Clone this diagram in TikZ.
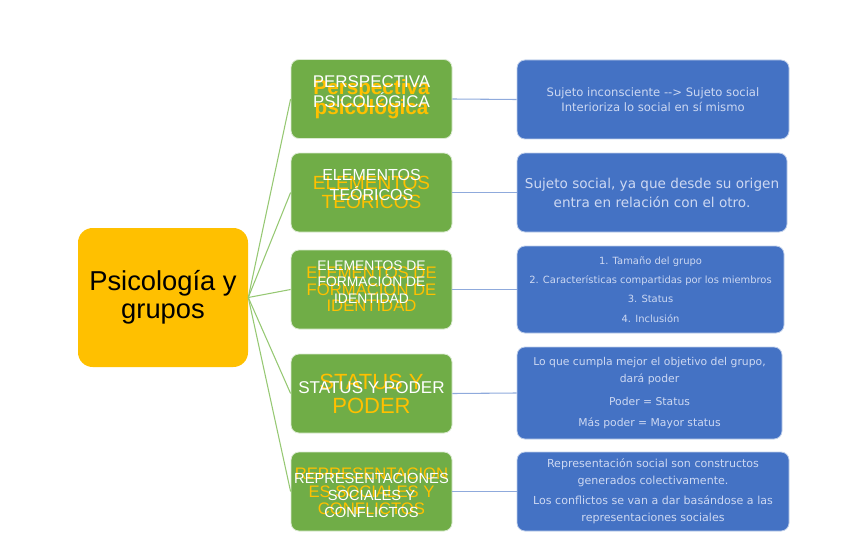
\documentclass[tikz,border=0pt]{standalone}
\usepackage{fontspec}
\setmainfont{Liberation Sans}
\newfontfamily\handfont{DejaVu Sans}
\definecolor{mapgold}{RGB}{255,192,0}
\definecolor{mapgreen}{RGB}{112,173,71}
\definecolor{mapblue}{RGB}{68,114,196}
\definecolor{handtext}{RGB}{205,216,242}
\definecolor{ramagreen}{RGB}{150,200,115}
\definecolor{enlaceblue}{RGB}{143,170,220}

\begin{document}
\begin{tikzpicture}[x=0.75pt,y=-0.75pt,
		raiz/.style={fill=mapgold,rounded corners=11pt,minimum width=127.5pt,minimum height=104.25pt,inner sep=0pt,align=center,font=\fontsize{20.5}{21}\selectfont},
		tema/.style={fill=mapgreen,draw=white!75!mapgreen,line width=0.6pt,rounded corners=6pt,minimum width=120.75pt,minimum height=59.25pt,inner sep=0pt,align=center,text=mapgold},
		rotulo/.style={align=center,text=white,inner sep=0pt},
		detalle/.style={fill=mapblue,draw=white!65!mapblue,line width=0.6pt,rounded corners=6pt,inner sep=0pt,align=center,text=handtext},
		rama/.style={draw=ramagreen,line width=0.8pt},
		enlace/.style={draw=enlaceblue,line width=0.8pt}]
			\useasboundingbox (0,0) rectangle (848,549);
			\node[raiz] (grupos) at (163,297.5) {Psicología y\\grupos};
			\node[tema,font=\bfseries\fontsize{15.5}{15}\selectfont] (persp) at (371.5,99) {Perspectiva\\psicológica};
			\node[tema,font=\fontsize{14.3}{14.25}\selectfont] (teoria) at (371.5,192.5) {ELEMENTOS\\TEÓRICOS};
			\node[tema,font=\fontsize{12.5}{12.4}\selectfont] (identidad) at (371.5,289.5) {ELEMENTOS DE\\FORMACIÓN DE\\IDENTIDAD};
			\node[tema,font=\fontsize{16.5}{18}\selectfont] (poder) at (371.5,393.5) {STATUS Y\\PODER};
			\node[tema,font=\fontsize{12.5}{13.1}\selectfont] (conflictos) at (371.5,491.5) {REPRESENTACION\\ES SOCIALES Y\\CONFLICTOS};
			\node[rotulo,font=\fontsize{12.7}{15}\selectfont] (persp-w) at (371.5,92) {PERSPECTIVA\\PSICOLÓGICA};
			\node[rotulo,font=\fontsize{12}{15}\selectfont] (teoria-w) at (371.5,184.5) {ELEMENTOS\\TEÓRICOS};
			\node[rotulo,font=\fontsize{10.4}{12.6}\selectfont] (identidad-w) at (371.5,282) {ELEMENTOS DE\\FORMACIÓN DE\\IDENTIDAD};
			\node[rotulo,font=\fontsize{12.8}{15}\selectfont] (poder-w) at (371.5,387.5) {STATUS Y PODER};
			\node[rotulo,font=\fontsize{11}{12.75}\selectfont] (conflictos-w) at (371.5,495) {REPRESENTACIONES\\SOCIALES Y\\CONFLICTOS};
			\node[detalle,minimum width=204pt,minimum height=59.25pt,font=\handfont\fontsize{8.7}{11.25}\selectfont] (persp-d) at (653,99.5) {Sujeto inconsciente -{}-{}> Sujeto social\\Interioriza lo social en sí mismo};
			\node[detalle,minimum width=202.5pt,minimum height=59.25pt,font=\handfont\fontsize{10.2}{14.25}\selectfont] (teoria-d) at (652,192.5) {Sujeto social, ya que desde su origen\\entra en relación con el otro.};
			\node[detalle,minimum width=200.25pt,minimum height=65.25pt,font=\handfont\fontsize{7.45}{14.5}\selectfont] (identidad-d) at (650.5,289.5) {1. Tamaño del grupo\\2. Características compartidas por los miembros\\3. Status\\4. Inclusión};
			\node[detalle,minimum width=198.75pt,minimum height=69pt,font=\handfont\fontsize{8.1}{12.75}\selectfont] (poder-d) at (649.5,393) {Lo que cumpla mejor el objetivo del grupo,\\dará poder\\[4.5pt]Poder = Status\\[3pt]Más poder = Mayor status};
			\node[detalle,minimum width=204pt,minimum height=59.25pt,font=\handfont\fontsize{8.3}{12.75}\selectfont] (conflictos-d) at (653,491.5) {Representación social son constructos\\generados colectivamente.\\[2.25pt]Los conflictos se van a dar basándose a las\\representaciones sociales};
			\draw[rama] (grupos.east) -- (persp.west);
			\draw[rama] (grupos.east) -- (teoria.west);
			\draw[rama] (grupos.east) -- (identidad.west);
			\draw[rama] (grupos.east) -- (poder.west);
			\draw[rama] (grupos.east) -- (conflictos.west);
			\draw[enlace] (persp.east) -- (persp-d.west);
			\draw[enlace] (teoria.east) -- (teoria-d.west);
			\draw[enlace] (identidad.east) -- (identidad-d.west);
			\draw[enlace] (poder.east) -- (poder-d.west);
			\draw[enlace] (conflictos.east) -- (conflictos-d.west);
\end{tikzpicture}
\end{document}
